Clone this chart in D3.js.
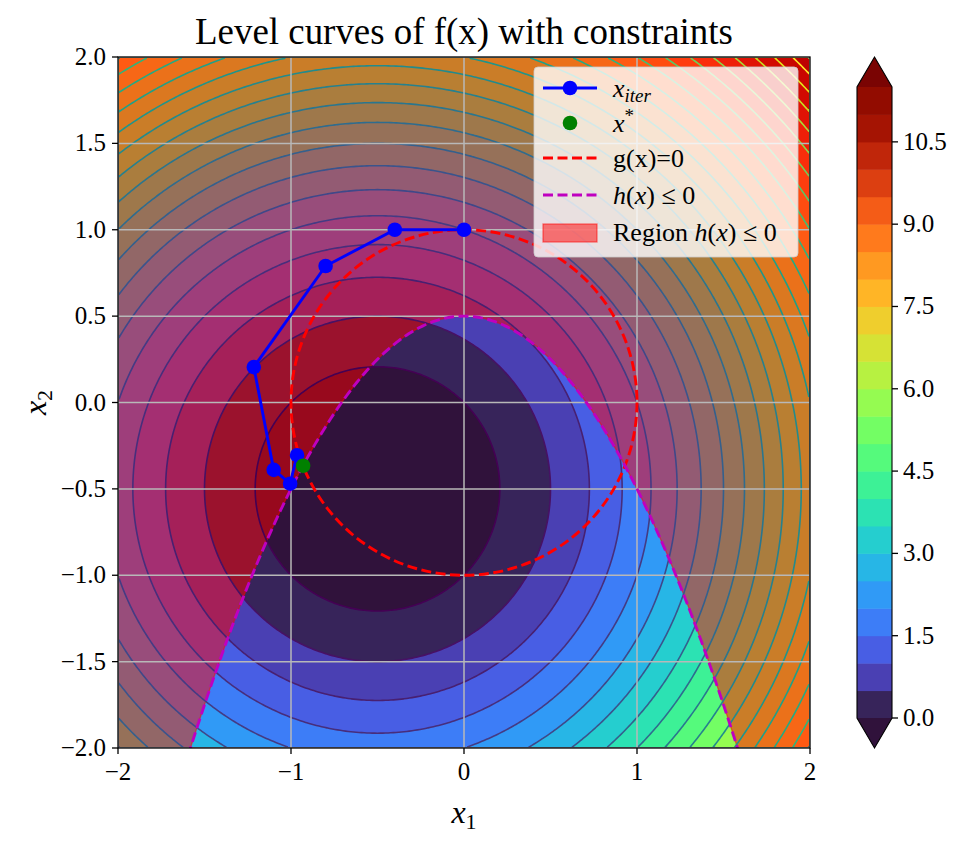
<!DOCTYPE html>
<html>
<head>
<meta charset="utf-8">
<script src="https://cdn.jsdelivr.net/npm/d3@7"></script>
<style>
  body { margin: 0; background: #fff; }
  svg text { font-family: "Liberation Serif", "DejaVu Serif", serif; fill: #000; }
</style>
</head>
<body>
<div id="root"></div>
<script>
// objective f(x) = (x1 - c1)^2 + (x2 - c2)^2 - offset
const fCenter = [-0.5, -0.5];
const fOffset = 0.5;
// g(x) = x1^2 + x2^2 - r^2  (circle)
const circleRadius = 1;
// h(x) boundary: x2 = top - x1^2  (parabola)
const parabolaTop = 0.5;

const fillLevels = [0, 0.5, 1, 1.5, 2, 2.5, 3, 3.5, 4, 4.5, 5, 5.5, 6, 6.5, 7, 7.5, 8, 8.5, 9, 9.5, 10, 10.5, 11, 11.5];

const xTicks = [-2, -1, 0, 1, 2];
const yTicks = [-2, -1.5, -1, -0.5, 0, 0.5, 1, 1.5, 2];
const cbTicks = [0, 1.5, 3, 4.5, 6, 7.5, 9, 10.5];

// iterates of the solver
const iterX = [0, -0.4, -0.8, -1.215, -1.1, -1.005, -0.965];
const iterY = [1.0, 1.0, 0.79, 0.205, -0.39, -0.47, -0.305];
const xStar = [-0.93, -0.366];

const width = 966, height = 842;
const plot = { left: 118, top: 57, right: 810, bottom: 748 };

let svg = d3.select('#root').append('svg')
    .attr('width', width)
    .attr('height', height);

let xScale = d3.scaleLinear().domain([-2, 2]).range([plot.left, plot.right]),
    yScale = d3.scaleLinear().domain([-2, 2]).range([plot.bottom, plot.top]);

const f = (a, b) => (a - fCenter[0]) ** 2 + (b - fCenter[1]) ** 2 - fOffset;

// sample f on a grid in pixel space
const nx = 260, ny = 260,
    W = plot.right - plot.left,
    H = plot.bottom - plot.top;
let values = new Float64Array(nx * ny);
for (let j = 0; j < ny; j++) {
    for (let i = 0; i < nx; i++) {
        let a = xScale.invert(plot.left + (i + 0.5) * W / nx),
            b = yScale.invert(plot.top + (j + 0.5) * H / ny);
        values[i + j * nx] = f(a, b);
    }
}

const gridProj = d3.geoTransform({
    point: function (px, py) {
        this.stream.point(plot.left + px * W / nx, plot.top + py * H / ny);
    }
});
const contourPath = d3.geoPath(gridProj);

// colours: matplotlib contourf with extend='both'
const vmax = fillLevels[fillLevels.length - 1];
const underColor = '#30123b', overColor = '#7a0403';
const bandColor = (i) => i >= fillLevels.length - 1 ? overColor
    : d3.interpolateTurbo((fillLevels[i] + fillLevels[i + 1]) / 2 / vmax);
const lineColor = d3.scaleSequential(d3.interpolateViridis).domain([0, vmax]);

svg.append('defs').append('clipPath')
    .attr('id', 'plotClip')
    .append('rect')
    .attr('x', plot.left).attr('y', plot.top)
    .attr('width', W).attr('height', H);

let plotArea = svg.append('g').attr('clip-path', 'url(#plotClip)');

// filled bands, painted from low to high (below 0 is the 'under' colour)
plotArea.append('rect')
    .attr('x', plot.left).attr('y', plot.top)
    .attr('width', W).attr('height', H)
    .attr('fill', underColor);

let fillContours = d3.contours().size([nx, ny]).thresholds(fillLevels)(values);
plotArea.append('g')
    .selectAll('path')
    .data(fillContours)
    .enter()
    .append('path')
    .attr('d', contourPath)
    .attr('fill', (d, i) => bandColor(i));

// shaded region h(x) <= 0 (above the parabola)
let parabolaX = d3.range(-2, 2.0001, 0.01);
let regionArea = d3.area()
    .x((d) => xScale(d))
    .y0((d) => yScale(parabolaTop - d * d))
    .y1(() => yScale(2));
plotArea.append('path')
    .datum(parabolaX)
    .attr('d', regionArea)
    .attr('fill', 'red')
    .attr('fill-opacity', 0.5)
    .attr('stroke', 'red')
    .attr('stroke-opacity', 0.5)
    .attr('stroke-width', 1.3);

// level lines
let lineContours = d3.contours().size([nx, ny]).thresholds(fillLevels)(values);
plotArea.append('g')
    .selectAll('path')
    .data(lineContours)
    .enter()
    .append('path')
    .attr('d', contourPath)
    .attr('fill', 'none')
    .attr('stroke', (d) => lineColor(d.value))
    .attr('stroke-width', 1.6);

// grid
let grid = plotArea.append('g').attr('stroke', '#b8b8b8').attr('stroke-width', 1.5);
grid.selectAll('.gx').data(xTicks).enter().append('line')
    .attr('x1', (d) => xScale(d)).attr('x2', (d) => xScale(d))
    .attr('y1', plot.top).attr('y2', plot.bottom);
grid.selectAll('.gy').data(yTicks).enter().append('line')
    .attr('y1', (d) => yScale(d)).attr('y2', (d) => yScale(d))
    .attr('x1', plot.left).attr('x2', plot.right);

// g(x) = 0
const dash = '10,4.5', dashWidth = 2.9;
plotArea.append('ellipse')
    .attr('cx', xScale(0)).attr('cy', yScale(0))
    .attr('rx', xScale(circleRadius) - xScale(0))
    .attr('ry', yScale(0) - yScale(circleRadius))
    .attr('fill', 'none')
    .attr('stroke', 'red')
    .attr('stroke-width', dashWidth)
    .attr('stroke-dasharray', dash);

// h(x) = 0 boundary
plotArea.append('path')
    .datum(parabolaX)
    .attr('d', d3.line().x((d) => xScale(d)).y((d) => yScale(parabolaTop - d * d)))
    .attr('fill', 'none')
    .attr('stroke', '#bf00bf')
    .attr('stroke-width', dashWidth)
    .attr('stroke-dasharray', dash);

// iterates
const markerR = 7.3;
let iterPoints = iterX.map((x, i) => [x, iterY[i]]);
plotArea.append('path')
    .datum(iterPoints)
    .attr('d', d3.line().x((d) => xScale(d[0])).y((d) => yScale(d[1])))
    .attr('fill', 'none')
    .attr('stroke', 'blue')
    .attr('stroke-width', 2.9);
plotArea.selectAll('.iter')
    .data(iterPoints)
    .enter()
    .append('circle')
    .attr('cx', (d) => xScale(d[0]))
    .attr('cy', (d) => yScale(d[1]))
    .attr('r', markerR)
    .attr('fill', 'blue');
plotArea.append('circle')
    .attr('cx', xScale(xStar[0]))
    .attr('cy', yScale(xStar[1]))
    .attr('r', markerR)
    .attr('fill', 'green');

// spines
svg.append('rect')
    .attr('x', plot.left).attr('y', plot.top)
    .attr('width', W).attr('height', H)
    .attr('fill', 'none')
    .attr('stroke', '#000')
    .attr('stroke-width', 1.3);

const fmtTick = (v, dec) => (v < 0 ? '\u2212' : '') + Math.abs(v).toFixed(dec);
const tickFont = 25;

// x axis
let xAxis = svg.append('g');
xAxis.selectAll('line').data(xTicks).enter().append('line')
    .attr('x1', (d) => xScale(d)).attr('x2', (d) => xScale(d))
    .attr('y1', plot.bottom).attr('y2', plot.bottom + 6)
    .attr('stroke', '#000').attr('stroke-width', 1.3);
xAxis.selectAll('text').data(xTicks).enter().append('text')
    .attr('x', (d) => xScale(d))
    .attr('y', plot.bottom + 32)
    .attr('text-anchor', 'middle')
    .style('font-size', tickFont + 'px')
    .text((d) => fmtTick(d, 0));

// y axis
let yAxis = svg.append('g');
yAxis.selectAll('line').data(yTicks).enter().append('line')
    .attr('y1', (d) => yScale(d)).attr('y2', (d) => yScale(d))
    .attr('x1', plot.left - 6).attr('x2', plot.left)
    .attr('stroke', '#000').attr('stroke-width', 1.3);
yAxis.selectAll('text').data(yTicks).enter().append('text')
    .attr('x', plot.left - 12)
    .attr('y', (d) => yScale(d) + 8)
    .attr('text-anchor', 'end')
    .style('font-size', tickFont + 'px')
    .text((d) => fmtTick(d, 1));

// axis labels
let xLabel = svg.append('text')
    .attr('x', (plot.left + plot.right) / 2)
    .attr('y', 823)
    .attr('text-anchor', 'middle')
    .style('font-size', '32px');
xLabel.append('tspan').style('font-style', 'italic').text('x');
xLabel.append('tspan').attr('dy', 6).style('font-size', '22px').text('1');

let yLabel = svg.append('text')
    .attr('transform', 'translate(46,' + ((plot.top + plot.bottom) / 2) + ') rotate(-90)')
    .attr('text-anchor', 'middle')
    .style('font-size', '32px');
yLabel.append('tspan').style('font-style', 'italic').text('x');
yLabel.append('tspan').attr('dy', 6).style('font-size', '22px').text('2');

// title, sized to the reference width
let title = svg.append('text')
    .attr('x', (plot.left + plot.right) / 2)
    .attr('y', 44)
    .attr('text-anchor', 'middle')
    .style('font-size', '30px')
    .text('Level curves of f(x) with constraints');
let titleLen = title.node().getComputedTextLength();
title.style('font-size', (30 * 538 / titleLen) + 'px');

// colorbar
const cb = { left: 857, right: 892, top: 87, bottom: 718, tip: 30 };
let cbScale = d3.scaleLinear().domain([0, vmax]).range([cb.bottom, cb.top]);
let cbG = svg.append('g');
let bandIdx = d3.range(fillLevels.length - 1);
cbG.selectAll('rect').data(bandIdx).enter().append('rect')
    .attr('x', cb.left)
    .attr('width', cb.right - cb.left)
    .attr('y', (i) => cbScale(fillLevels[i + 1]))
    .attr('height', (i) => cbScale(fillLevels[i]) - cbScale(fillLevels[i + 1]) + 0.5)
    .attr('fill', (i) => bandColor(i));
let cbMid = (cb.left + cb.right) / 2;
cbG.append('path')
    .attr('d', `M${cb.left},${cb.bottom}L${cb.right},${cb.bottom}L${cbMid},${cb.bottom + cb.tip}Z`)
    .attr('fill', underColor);
cbG.append('path')
    .attr('d', `M${cb.left},${cb.top}L${cb.right},${cb.top}L${cbMid},${cb.top - cb.tip}Z`)
    .attr('fill', overColor);
cbG.append('path')
    .attr('d', `M${cbMid},${cb.top - cb.tip}L${cb.right},${cb.top}L${cb.right},${cb.bottom}L${cbMid},${cb.bottom + cb.tip}L${cb.left},${cb.bottom}L${cb.left},${cb.top}Z`)
    .attr('fill', 'none')
    .attr('stroke', '#000')
    .attr('stroke-width', 1.1);
cbG.selectAll('.cbt').data(cbTicks).enter().append('line')
    .attr('x1', cb.right).attr('x2', cb.right + 6)
    .attr('y1', (d) => cbScale(d)).attr('y2', (d) => cbScale(d))
    .attr('stroke', '#000').attr('stroke-width', 1.3);
cbG.selectAll('text').data(cbTicks).enter().append('text')
    .attr('x', cb.right + 11)
    .attr('y', (d) => cbScale(d) + 8)
    .style('font-size', tickFont + 'px')
    .text((d) => fmtTick(d, 1));

// legend
const lg = { x: 534, y: 67, w: 264, h: 190 };
let legend = svg.append('g');
legend.append('rect')
    .attr('x', lg.x).attr('y', lg.y)
    .attr('width', lg.w).attr('height', lg.h)
    .attr('rx', 4)
    .attr('fill', '#fff').attr('fill-opacity', 0.8)
    .attr('stroke', '#cccccc').attr('stroke-opacity', 0.8);

const rowY = [88, 123, 158, 195, 232];
const hx0 = 543, hx1 = 597, tx = 613, legFont = 26;

// x_iter
legend.append('line').attr('x1', hx0).attr('x2', hx1).attr('y1', rowY[0]).attr('y2', rowY[0])
    .attr('stroke', 'blue').attr('stroke-width', 2.9);
legend.append('circle').attr('cx', (hx0 + hx1) / 2).attr('cy', rowY[0]).attr('r', markerR).attr('fill', 'blue');
// x*
legend.append('circle').attr('cx', (hx0 + hx1) / 2).attr('cy', rowY[1]).attr('r', markerR).attr('fill', 'green');
// g(x)=0
legend.append('line').attr('x1', hx0).attr('x2', hx1).attr('y1', rowY[2]).attr('y2', rowY[2])
    .attr('stroke', 'red').attr('stroke-width', dashWidth).attr('stroke-dasharray', dash);
// h(x) <= 0
legend.append('line').attr('x1', hx0).attr('x2', hx1).attr('y1', rowY[3]).attr('y2', rowY[3])
    .attr('stroke', '#bf00bf').attr('stroke-width', dashWidth).attr('stroke-dasharray', dash);
// region patch
legend.append('rect').attr('x', hx0).attr('y', rowY[4] - 8).attr('width', hx1 - hx0).attr('height', 18)
    .attr('fill', 'red').attr('fill-opacity', 0.5)
    .attr('stroke', 'red').attr('stroke-opacity', 0.5).attr('stroke-width', 1.3);

let legText = (row) => legend.append('text')
    .attr('x', tx).attr('y', rowY[row] + 9)
    .style('font-size', legFont + 'px');

let t0 = legText(0);
t0.append('tspan').style('font-style', 'italic').text('x');
t0.append('tspan').attr('dy', 5).style('font-style', 'italic').style('font-size', '19px').text('iter');

let t1 = legText(1);
t1.append('tspan').style('font-style', 'italic').text('x');
t1.append('tspan').attr('dy', -10).style('font-size', '19px').text('*');

legText(2).text('g(x)=0');

let hText = (sel) => {
    sel.append('tspan').style('font-style', 'italic').text('h');
    sel.append('tspan').text('(');
    sel.append('tspan').style('font-style', 'italic').text('x');
    sel.append('tspan').text(') \u2264 0');
};
hText(legText(3));
let t4 = legText(4);
t4.append('tspan').text('Region ');
hText(t4);
</script>
</body>
</html>
